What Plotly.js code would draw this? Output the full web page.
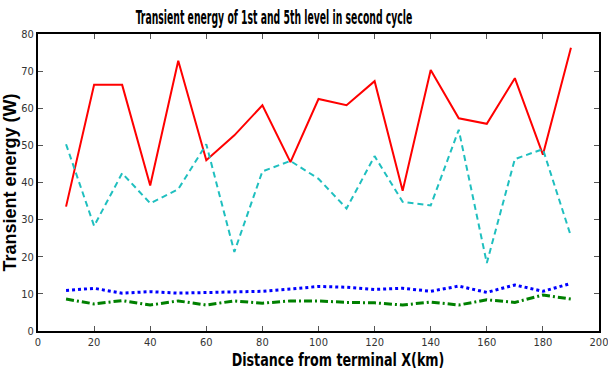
<!DOCTYPE html>
<html>
<head>
<meta charset="utf-8">
<script src="https://cdn.plot.ly/plotly-3.0.1.min.js"></script>
<style>html,body{margin:0;padding:0;background:#fff;}#chart{width:608px;height:374px;}</style>
</head>
<body>
<div id="chart"></div>
<script>
const distance = [10,20,30,40,50,60,70,80,90,100,110,120,130,140,150,160,170,180,190];
const level1Red = [33.5,66.3,66.3,39.2,72.8,46.0,52.7,60.8,45.5,62.5,60.8,67.3,37.8,70.3,57.3,55.8,68.1,47.5,76.3];
const level5Cyan = [50.3,28.3,42.5,34.4,38.2,50.3,21.3,43.0,45.8,41.0,33.0,47.1,34.8,33.8,54.2,18.3,46.3,49.0,25.5];
const level1Blue = [10.9,11.5,10.2,10.6,10.2,10.4,10.5,10.7,11.3,12.0,11.8,11.2,11.5,10.7,12.1,10.4,12.4,10.7,12.8];
const level5Green = [8.6,7.3,8.2,7.0,8.1,7.0,8.1,7.5,8.1,8.1,7.7,7.6,7.0,7.8,7.0,8.4,7.7,9.7,8.6];
const xTicks = [0,20,40,60,80,100,120,140,160,180,200];
const yTicks = [0,10,20,30,40,50,60,70,80];

const narrow = '"DejaVu Sans Condensed", "Liberation Sans Narrow", "Liberation Sans", Arial, sans-serif';

const traces = [
  {x: distance, y: level1Red, mode: 'lines', line: {color: '#ff0000', width: 2}},
  {x: distance, y: level5Cyan, mode: 'lines', line: {color: '#1fbfbf', width: 2, dash: '6px,4px'}},
  {x: distance, y: level1Blue, mode: 'lines', line: {color: '#0000ff', width: 3, dash: 'dot'}},
  {x: distance, y: level5Green, mode: 'lines', line: {color: '#008000', width: 3, dash: '8px,3px,2px,3px'}}
];

const layout = {
  width: 608, height: 374,
  margin: {l: 38, r: 9, t: 34, b: 43},
  paper_bgcolor: '#fff', plot_bgcolor: '#fff',
  showlegend: false,
  title: {text: '<b>Transient energy of 1st and 5th level in second cycle</b>', font: {family: narrow, size: 19, color: '#000'}, x: 0.45, xanchor: 'center', y: 0.972, yanchor: 'top'},
  xaxis: {
    range: [0, 200], tickvals: xTicks, ticktext: xTicks.map(String),
    ticks: 'inside', ticklen: 5, tickcolor: '#555', tickwidth: 1,
    showline: true, linecolor: '#000', linewidth: 2, mirror: 'ticks',
    showgrid: false, zeroline: false, ticklabeloverflow: 'allow',
    tickfont: {family: narrow, size: 11, color: '#333'},
    title: {text: '<b>Distance from terminal X(km)</b>', font: {family: narrow, size: 18, color: '#000'}, standoff: 3}
  },
  yaxis: {
    range: [0, 80], tickvals: yTicks, ticktext: yTicks.map(String),
    ticks: 'inside', ticklen: 5, tickcolor: '#555', tickwidth: 1,
    showline: true, linecolor: '#000', linewidth: 2, mirror: 'ticks',
    showgrid: false, zeroline: false,
    tickfont: {family: narrow, size: 11, color: '#333'},
    title: {text: '<b>Transient energy (W)</b>', font: {family: '"Liberation Sans", Arial, sans-serif', size: 18, color: '#000'}, standoff: 4}
  }
};

function squeezeX(el, targetWidth, targetCx) {
  if (!el) return;
  const b = el.getBBox();
  const s = targetWidth / b.width;
  const cx = b.x + b.width / 2;
  const prev = el.getAttribute('transform') || '';
  el.setAttribute('transform', `translate(${targetCx},0) scale(${s},1) translate(${-cx},0) ${prev}`);
}

Plotly.newPlot('chart', traces, layout, {displayModeBar: false, staticPlot: true}).then(() => {
  squeezeX(document.querySelector('.gtitle'), 277, 274);
  squeezeX(document.querySelector('.xtitle'), 213, 338);
});
</script>
</body>
</html>
